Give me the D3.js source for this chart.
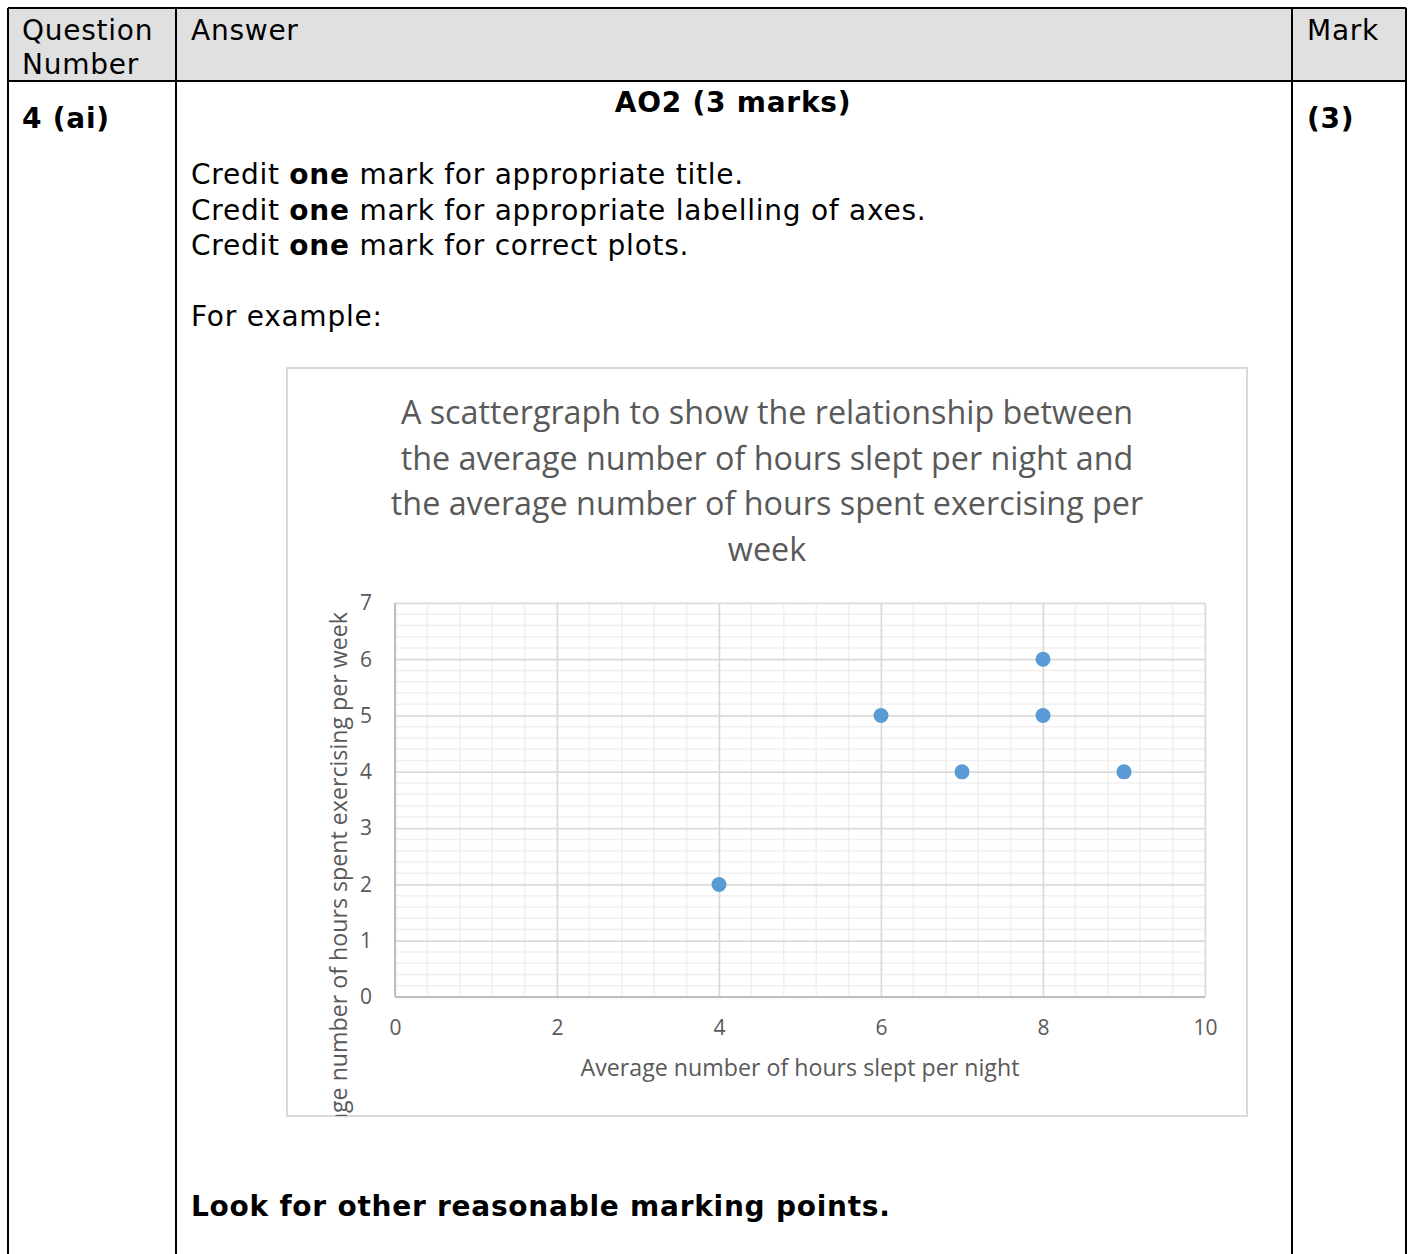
<!DOCTYPE html>
<html>
<head>
<meta charset="utf-8">
<script src="https://d3js.org/d3.v7.min.js"></script>
<style>
  body { margin: 0; background: #fff; }
  svg { display: block; }
</style>
</head>
<body>
<svg id="page" width="1410" height="1254"></svg>
<script>
// data
var sleepHours = [4, 6, 7, 8, 8, 9];
var exerciseHours = [2, 5, 4, 6, 5, 4];
var xTicks = [0, 2, 4, 6, 8, 10];
var yTicks = [0, 1, 2, 3, 4, 5, 6, 7];
var titleLines = [
  "A scattergraph to show the relationship between",
  "the average number of hours slept per night and",
  "the average number of hours spent exercising per",
  "week"
];
var creditLines = [
  ["Credit ", "one", " mark for appropriate title."],
  ["Credit ", "one", " mark for appropriate labelling of axes."],
  ["Credit ", "one", " mark for correct plots."]
];

var svg = d3.select("#page");
var tableFont = "'DejaVu Sans', Verdana, sans-serif";
var chartFont = "'Open Sans', sans-serif";
var spacing = 0.75;

// ---- table frame ----
svg.append("rect").attr("x", 8).attr("y", 8).attr("width", 1398).attr("height", 73)
  .attr("fill", "#e0e0e0");
var lineCol = "#000";
[[8, 8, 1406, 8], [8, 81, 1406, 81], [8, 8, 8, 1254], [176, 8, 176, 1254],
 [1292, 8, 1292, 1254], [1406, 8, 1406, 1254]].forEach(function(l) {
  svg.append("line").attr("x1", l[0]).attr("y1", l[1]).attr("x2", l[2]).attr("y2", l[3])
    .attr("stroke", lineCol).attr("stroke-width", 2);
});

var txt = function(x, y, s, opts) {
  opts = opts || {};
  return svg.append("text").attr("x", x).attr("y", y).text(s)
    .attr("font-family", tableFont)
    .attr("font-size", 28)
    .attr("letter-spacing", spacing)
    .attr("font-weight", opts.bold ? "bold" : "normal")
    .attr("text-anchor", opts.anchor || "start")
    .attr("fill", "#000");
};

txt(22, 40, "Question");
txt(22, 74, "Number");
txt(191, 40, "Answer");
txt(1307, 40, "Mark");
txt(22, 128, "4 (ai)", {bold: true});
txt(1307, 128, "(3)", {bold: true});
txt(733, 112, "AO2 (3 marks)", {bold: true, anchor: "middle"});

creditLines.forEach(function(parts, i) {
  var t = svg.append("text").attr("x", 191).attr("y", 184 + i * 35.5)
    .attr("font-family", tableFont).attr("font-size", 28).attr("letter-spacing", spacing);
  parts.forEach(function(p, j) {
    t.append("tspan").text(p).attr("font-weight", j === 1 ? "bold" : "normal");
  });
});
txt(191, 326, "For example:");
txt(191, 1216, "Look for other reasonable marking points.", {bold: true});

// ---- chart box ----
var box = {x: 287, y: 368, w: 960, h: 748};
svg.append("defs").append("clipPath").attr("id", "boxclip")
  .append("rect").attr("x", box.x).attr("y", box.y).attr("width", box.w).attr("height", box.h);
svg.append("rect").attr("x", box.x).attr("y", box.y).attr("width", box.w).attr("height", box.h)
  .attr("fill", "#fff").attr("stroke", "#d9d9d9").attr("stroke-width", 2);

var chart = svg.append("g").attr("clip-path", "url(#boxclip)");
var grey = "#595959";

titleLines.forEach(function(s, i) {
  chart.append("text").attr("x", 767).attr("y", 424 + i * 45.5).text(s)
    .attr("font-family", chartFont).attr("font-size", 32.3).attr("fill", grey)
    .attr("text-anchor", "middle");
});

var x = d3.scaleLinear().domain([0, 10]).range([395, 1205]);
var y = d3.scaleLinear().domain([0, 7]).range([997, 603]);

// minor gridlines
var plot = chart.append("g");
plot.selectAll("line.xminor").data(d3.range(0, 10.001, 0.4)).join("line")
  .attr("x1", function(d) { return x(d); }).attr("x2", function(d) { return x(d); })
  .attr("y1", y(0)).attr("y2", y(7))
  .attr("stroke", "#f0f0f0").attr("stroke-width", 1.5);
plot.selectAll("line.yminor").data(d3.range(0, 7.001, 0.2)).join("line")
  .attr("y1", function(d) { return y(d); }).attr("y2", function(d) { return y(d); })
  .attr("x1", x(0)).attr("x2", x(10))
  .attr("stroke", "#f0f0f0").attr("stroke-width", 1.5);

// major gridlines via axes
var xGrid = d3.axisBottom(x).tickValues(xTicks).tickSize(-(y(0) - y(7))).tickFormat("");
var yGrid = d3.axisLeft(y).tickValues(yTicks).tickSize(-(x(10) - x(0))).tickFormat("");
plot.append("g").attr("transform", "translate(0," + y(0) + ")").call(xGrid)
  .call(function(g) { g.select(".domain").remove(); })
  .selectAll("line").attr("stroke", "#d9d9d9").attr("stroke-width", 1.5);
plot.append("g").attr("transform", "translate(" + x(0) + ",0)").call(yGrid)
  .call(function(g) { g.select(".domain").remove(); })
  .selectAll("line").attr("stroke", "#d9d9d9").attr("stroke-width", 1.5);

// axis lines
plot.append("line").attr("x1", x(0)).attr("x2", x(10)).attr("y1", y(0)).attr("y2", y(0))
  .attr("stroke", "#bfbfbf").attr("stroke-width", 2);
plot.append("line").attr("x1", x(0)).attr("x2", x(0)).attr("y1", y(0)).attr("y2", y(7))
  .attr("stroke", "#bfbfbf").attr("stroke-width", 2);

// tick labels
var xAxis = d3.axisBottom(x).tickValues(xTicks).tickSize(0).tickPadding(0).tickFormat(d3.format("d"));
var gx = chart.append("g").attr("transform", "translate(0," + (y(0) + 23) + ")").call(xAxis);
gx.select(".domain").remove();
gx.selectAll("text").attr("font-family", chartFont).attr("font-size", 21).attr("fill", grey)
  .attr("dy", "0.71em");
var yAxis = d3.axisLeft(y).tickValues(yTicks).tickSize(0).tickPadding(0).tickFormat(d3.format("d"));
var gy = chart.append("g").attr("transform", "translate(" + (x(0) - 23) + ",0)").call(yAxis);
gy.select(".domain").remove();
gy.selectAll("text").attr("font-family", chartFont).attr("font-size", 21).attr("fill", grey);

// axis titles
chart.append("text").attr("x", 800).attr("y", 1076)
  .text("Average number of hours slept per night")
  .attr("font-family", chartFont).attr("font-size", 23.2).attr("fill", grey)
  .attr("text-anchor", "middle");
chart.append("text").attr("transform", "translate(347,612) rotate(-90)")
  .text("Average number of hours spent exercising per week")
  .attr("font-family", chartFont).attr("font-size", 23.2).attr("fill", grey)
  .attr("text-anchor", "end");

// points
chart.selectAll("circle.pt").data(sleepHours).join("circle")
  .attr("cx", function(d) { return x(d); })
  .attr("cy", function(d, i) { return y(exerciseHours[i]); })
  .attr("r", 7.5).attr("fill", "#5b9bd5");
</script>
</body>
</html>
